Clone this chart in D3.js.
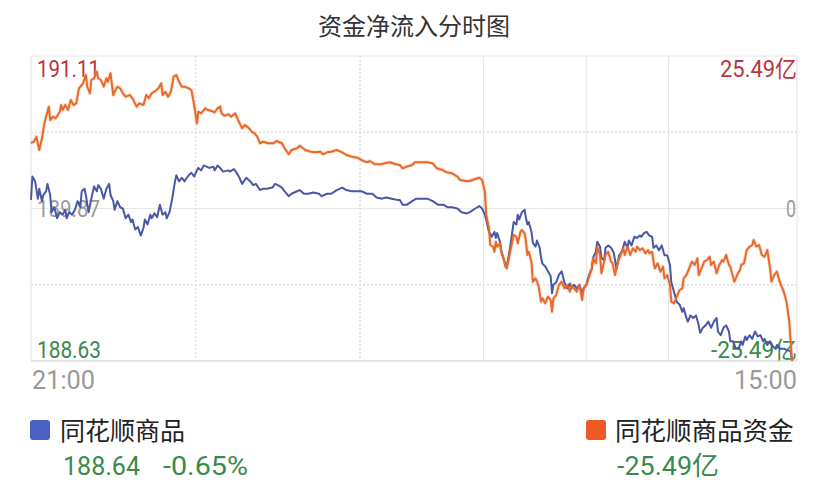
<!DOCTYPE html>
<html>
<head>
<meta charset="utf-8">
<script src="https://cdn.jsdelivr.net/npm/d3@7/dist/d3.min.js"></script>
<style>
  html, body { margin: 0; padding: 0; background: #fff; }
  svg { display: block; }
</style>
</head>
<body>
<svg id="chart" width="828" height="496"></svg>
<script>
// ---------- data ----------
const title = "资金净流入分时图";
const priceName = "同花顺商品";
const flowName = "同花顺商品资金";
const prevClose = 189.87;
const priceTicks = [188.63, 189.25, 189.87, 190.49, 191.11];
const priceTickLabels = ["188.63", "189.87", "191.11"];
const flowTickLabels = ["-25.49亿", "0", "25.49亿"];
const timeLabels = ["21:00", "15:00"];
const sessionMinutes = [0, 330, 405, 465, 555];   // session boundaries (solid)
const hourMinutes = [120, 240];                    // 23:00, 01:00 (dotted)
const lastPrice = "188.64";
const lastChange = "-0.65%";
const lastFlow = "-25.49亿";

// [minute index, price]
const priceData = [[0,189.94],[1,190.13],[3,190.09],[5,189.95],[6,190.03],[8,189.93],[9,189.98],[11,190.01],[12,190.07],[14,189.98],[15,189.84],[17,189.88],[19,189.79],[21,189.84],[23,189.82],[25,189.86],[26,189.79],[28,189.84],[30,189.82],[32,189.86],[34,189.93],[36,189.88],[37,190.01],[39,190.03],[40,189.98],[42,189.84],[44,189.95],[46,190.05],[48,190.01],[49,190.06],[51,190.03],[53,189.95],[55,190.03],[57,190.07],[58,189.98],[60,189.93],[61,189.86],[63,189.93],[65,189.88],[67,189.87],[69,189.79],[71,189.82],[73,189.76],[74,189.78],[76,189.70],[78,189.72],[80,189.65],[82,189.71],[83,189.78],[85,189.74],[87,189.82],[88,189.79],[90,189.83],[92,189.80],[94,189.90],[96,189.82],[98,189.84],[99,189.79],[101,189.84],[103,189.95],[105,190.09],[106,190.14],[108,190.09],[110,190.12],[112,190.09],[113,190.11],[115,190.14],[117,190.16],[119,190.13],[121,190.18],[122,190.20],[124,190.18],[126,190.22],[128,190.21],[130,190.20],[133,190.21],[134,190.18],[136,190.22],[138,190.20],[140,190.17],[144,190.18],[145,190.17],[148,190.19],[150,190.16],[152,190.12],[154,190.07],[157,190.12],[160,190.09],[162,190.06],[164,190.07],[167,190.02],[169,190.03],[172,190.03],[176,190.04],[178,190.07],[180,190.06],[183,190.04],[185,190.01],[188,189.97],[190,189.99],[194,190.01],[196,190.02],[199,189.99],[202,189.99],[206,190.00],[210,189.99],[212,189.97],[216,189.99],[219,189.99],[223,190.02],[227,190.04],[230,190.02],[234,190.01],[238,190.01],[241,190.01],[245,189.99],[249,189.99],[252,189.96],[256,189.95],[259,189.96],[263,189.95],[267,189.94],[269,189.94],[271,189.90],[274,189.90],[278,189.93],[281,189.95],[284,189.95],[289,189.95],[293,189.93],[297,189.90],[301,189.90],[304,189.88],[307,189.88],[311,189.87],[314,189.84],[318,189.83],[320,189.84],[324,189.87],[327,189.89],[329,189.87],[331,189.82],[332,189.78],[334,189.68],[336,189.64],[338,189.68],[339,189.63],[340,189.67],[342,189.60],[343,189.52],[345,189.45],[346,189.41],[347,189.40],[349,189.52],[351,189.68],[352,189.76],[354,189.74],[355,189.82],[356,189.78],[358,189.84],[360,189.86],[361,189.79],[362,189.74],[363,189.76],[365,189.68],[366,189.59],[368,189.56],[369,189.61],[371,189.55],[372,189.47],[373,189.42],[375,189.40],[377,189.36],[379,189.32],[380,189.18],[381,189.25],[383,189.27],[385,189.33],[387,189.36],[389,189.27],[391,189.22],[393,189.26],[394,189.22],[396,189.25],[398,189.22],[400,189.25],[402,189.17],[403,189.22],[405,189.25],[407,189.33],[409,189.38],[410,189.47],[412,189.52],[413,189.60],[415,189.56],[416,189.47],[418,189.45],[419,189.55],[421,189.57],[423,189.55],[425,189.51],[427,189.38],[429,189.49],[431,189.52],[433,189.60],[435,189.55],[436,189.61],[438,189.57],[440,189.64],[442,189.63],[444,189.65],[445,189.64],[447,189.67],[449,189.68],[451,189.65],[453,189.64],[454,189.55],[456,189.57],[458,189.53],[460,189.57],[462,189.49],[464,189.49],[466,189.41],[467,189.27],[469,189.19],[471,189.11],[473,189.09],[475,189.03],[476,189.06],[478,188.98],[479,188.95],[481,189.00],[483,188.98],[485,189.00],[487,188.92],[488,188.86],[490,188.90],[492,188.92],[494,188.95],[496,188.90],[498,188.95],[500,188.98],[501,188.87],[503,188.84],[505,188.90],[507,188.92],[509,188.87],[510,188.79],[512,188.79],[514,188.73],[516,188.73],[518,188.79],[519,188.76],[521,188.83],[522,188.80],[524,188.84],[526,188.81],[528,188.87],[530,188.83],[532,188.84],[534,188.79],[535,188.81],[537,188.76],[539,188.79],[541,188.75],[543,188.73],[544,188.76],[546,188.73],[549,188.73],[551,188.72],[554,188.71],[555,188.64]];

// [minute index, net inflow (亿)]
const flowData = [[0,10.95],[2,11.17],[4,12.00],[6,9.78],[8,11.73],[10,14.51],[13,17.02],[14,14.79],[16,15.34],[18,15.08],[21,16.18],[22,17.30],[23,16.46],[25,17.30],[27,16.46],[29,18.14],[31,17.30],[33,17.58],[35,20.09],[38,20.93],[40,22.31],[41,20.36],[43,19.26],[44,21.48],[46,21.76],[48,22.87],[49,21.76],[51,21.48],[53,20.36],[55,21.76],[56,21.19],[58,22.60],[60,18.97],[61,19.52],[63,20.36],[65,20.09],[67,19.26],[69,18.69],[72,18.97],[74,18.42],[77,17.02],[79,17.58],[82,17.30],[84,18.97],[86,18.42],[88,19.26],[90,19.52],[93,20.09],[95,20.93],[96,18.97],[98,19.52],[100,18.69],[102,19.52],[104,22.03],[106,22.31],[108,21.19],[110,20.36],[112,20.36],[115,20.09],[117,19.81],[119,17.30],[121,14.24],[122,16.18],[124,15.91],[127,16.75],[129,16.46],[132,16.30],[134,16.08],[136,16.75],[138,17.02],[139,15.91],[141,15.51],[144,15.75],[146,15.34],[149,15.91],[151,14.79],[154,13.41],[156,13.96],[159,13.41],[161,12.84],[163,12.57],[165,12.00],[167,10.90],[169,11.17],[173,10.90],[177,10.90],[179,11.28],[183,10.90],[185,10.06],[188,9.06],[190,9.78],[194,10.06],[196,10.50],[200,9.78],[204,9.49],[207,9.39],[211,9.49],[213,9.06],[216,9.39],[219,9.49],[223,9.78],[227,9.39],[230,8.94],[234,8.66],[238,8.49],[241,8.11],[245,7.72],[247,7.94],[251,7.39],[255,7.39],[258,7.56],[262,7.72],[266,7.39],[269,7.27],[271,6.72],[274,6.99],[278,7.27],[280,7.72],[284,7.72],[289,7.72],[293,7.56],[296,6.72],[300,6.44],[303,6.05],[307,5.88],[311,5.32],[313,4.76],[317,4.60],[320,4.60],[324,4.93],[327,5.15],[329,4.76],[331,2.81],[332,-1.09],[334,-3.31],[335,-6.10],[337,-6.39],[338,-7.22],[339,-5.55],[340,-6.39],[342,-5.82],[343,-7.22],[345,-8.61],[346,-9.73],[347,-10.00],[349,-7.77],[351,-5.55],[352,-4.43],[354,-4.71],[355,-5.82],[357,-3.88],[358,-3.59],[360,-4.15],[361,-5.55],[362,-7.77],[363,-7.22],[365,-8.89],[366,-12.24],[368,-11.67],[370,-12.79],[372,-15.58],[373,-15.01],[375,-15.85],[377,-14.74],[379,-15.29],[380,-17.25],[381,-15.01],[383,-14.46],[385,-12.79],[387,-12.24],[389,-13.34],[391,-12.79],[393,-13.91],[394,-12.79],[396,-13.34],[398,-13.91],[400,-12.79],[402,-15.29],[403,-13.34],[405,-12.79],[407,-11.40],[409,-10.00],[410,-8.32],[412,-9.16],[413,-6.39],[415,-7.77],[416,-10.83],[418,-8.89],[419,-7.77],[421,-7.22],[423,-8.89],[424,-9.11],[426,-11.12],[428,-8.89],[430,-7.77],[432,-6.65],[433,-7.77],[435,-6.39],[437,-7.77],[439,-6.65],[441,-7.22],[442,-6.39],[444,-6.94],[446,-6.65],[448,-7.49],[450,-6.94],[451,-7.49],[453,-7.22],[454,-8.89],[455,-10.00],[457,-9.16],[459,-10.56],[461,-9.73],[462,-11.67],[464,-11.12],[466,-12.79],[467,-15.58],[469,-15.85],[471,-14.74],[473,-13.62],[475,-13.34],[476,-11.67],[478,-11.12],[480,-10.00],[482,-8.89],[484,-9.44],[486,-8.32],[487,-11.12],[489,-10.00],[491,-8.89],[493,-8.61],[495,-8.06],[496,-9.44],[498,-8.89],[500,-10.83],[502,-9.44],[504,-8.61],[505,-8.89],[507,-7.77],[509,-9.44],[510,-9.73],[513,-12.24],[515,-11.12],[517,-10.28],[518,-9.44],[520,-9.16],[522,-6.94],[524,-6.39],[526,-6.10],[527,-5.27],[529,-6.39],[531,-6.10],[533,-7.77],[535,-8.06],[537,-6.94],[539,-10.00],[540,-12.24],[542,-11.12],[544,-10.56],[546,-12.24],[548,-13.34],[549,-13.91],[551,-15.58],[553,-18.92],[554,-22.26],[555,-25.49]];

// ---------- layout ----------
const svg = d3.select("#chart");
const frame = { left: 31, right: 797, top: 56, bottom: 361 };
const x = d3.scaleLinear().domain([0, 555]).range([31, 792]);
const yL = d3.scaleLinear().domain([188.63, 191.11]).range([frame.bottom, frame.top]);
const yR = d3.scaleLinear().domain([-25.49, 25.49]).range([frame.bottom, frame.top]);

const numFont = "Roboto, 'DejaVu Sans', sans-serif";
const cjkFont = "'Noto Sans CJK SC', 'Noto Sans', sans-serif";
const RED = "#bb353c", GREEN = "#3b8a4d", GRAY = "#9a9a9a";
const BLUE_LINE = "#4858a6", ORANGE_LINE = "#e8692c";

// title
svg.append("text").attr("x", 414).attr("y", 35).attr("text-anchor", "middle")
  .attr("font-family", cjkFont).attr("font-size", 24).attr("fill", "#333")
  .text(title);

// grid
const grid = svg.append("g");
priceTicks.forEach((t, i) => {
  const dotted = (i === 1 || i === 3);
  grid.append("line").attr("x1", frame.left).attr("x2", frame.right)
    .attr("y1", yL(t)).attr("y2", yL(t))
    .attr("stroke", dotted ? "#dedede" : "#e6e6e6")
    .attr("stroke-width", dotted ? 1.5 : 1.2)
    .attr("stroke-dasharray", dotted ? "2,2" : null);
});
sessionMinutes.slice(0, 4).forEach(m => {
  grid.append("line").attr("x1", x(m)).attr("x2", x(m))
    .attr("y1", frame.top).attr("y2", frame.bottom)
    .attr("stroke", "#e6e6e6").attr("stroke-width", 1.2);
});
grid.append("line").attr("x1", frame.right).attr("x2", frame.right)
  .attr("y1", frame.top).attr("y2", frame.bottom)
  .attr("stroke", "#e6e6e6").attr("stroke-width", 1.2);
hourMinutes.forEach(m => {
  grid.append("line").attr("x1", x(m)).attr("x2", x(m))
    .attr("y1", frame.top).attr("y2", frame.bottom)
    .attr("stroke", "#dedede").attr("stroke-width", 1.5).attr("stroke-dasharray", "2,2");
});
grid.append("line").attr("x1", frame.left).attr("x2", frame.right)
  .attr("y1", frame.bottom).attr("y2", frame.bottom)
  .attr("stroke", "#e0e0e0").attr("stroke-width", 1.5);

// axis labels helper
function label(g, txt, px, py, anchor, size, color, len, font) {
  const t = g.append("text").attr("x", px).attr("y", py).attr("text-anchor", anchor)
    .attr("font-family", font || numFont).attr("font-size", size).attr("fill", color).text(txt);
  if (len) t.attr("textLength", len).attr("lengthAdjust", "spacingAndGlyphs");
  return t;
}
const axisG = svg.append("g");
label(axisG, priceTickLabels[2], 37, yL(191.11) + 21, "start", 23, RED, 63);
label(axisG, priceTickLabels[1], 37, yL(prevClose) + 8.5, "start", 23, GRAY, 63);
label(axisG, priceTickLabels[0], 37, yL(188.63) - 3.5, "start", 23, GREEN, 64);
label(axisG, flowTickLabels[2], 797, yR(25.49) + 21, "end", 23, RED, 77, numFont + ", " + cjkFont);
label(axisG, flowTickLabels[1], 796, yR(0) + 8.5, "end", 23, GRAY, 10);
label(axisG, flowTickLabels[0], 797, yR(-25.49) - 3.5, "end", 23, GREEN, 86, numFont + ", " + cjkFont);

// time labels
label(axisG, timeLabels[0], 32, 389, "start", 25, GRAY, 63);
label(axisG, timeLabels[1], 797, 389, "end", 25, GRAY, 63);

// lines
const lineGen = (ys) => d3.line().x(d => x(d[0])).y(d => ys(d[1])).curve(d3.curveLinear);
svg.append("path").datum(flowData)
  .attr("d", lineGen(yR)).attr("fill", "none")
  .attr("stroke", "#f3b48e").attr("stroke-width", 4).attr("stroke-opacity", 0.35)
  .attr("stroke-linejoin", "round");
svg.append("path").datum(priceData)
  .attr("d", lineGen(yL)).attr("fill", "none")
  .attr("stroke", BLUE_LINE).attr("stroke-width", 2).attr("stroke-linejoin", "round");
svg.append("path").datum(flowData)
  .attr("d", lineGen(yR)).attr("fill", "none")
  .attr("stroke", ORANGE_LINE).attr("stroke-width", 2).attr("stroke-linejoin", "round");

// legend
const lg = svg.append("g");
lg.append("rect").attr("x", 30).attr("y", 420).attr("width", 20).attr("height", 20)
  .attr("rx", 3).attr("fill", "#4a60c2");
label(lg, priceName, 60, 440, "start", 25, "#222", null, cjkFont);
label(lg, lastPrice, 63, 475, "start", 26, GREEN, 77);
label(lg, lastChange, 163, 475, "start", 26, GREEN, 85);

lg.append("rect").attr("x", 586).attr("y", 420).attr("width", 20).attr("height", 20)
  .attr("rx", 3).attr("fill", "#ef5a24");
label(lg, flowName, 615, 440, "start", 25.5, "#222", null, cjkFont);
label(lg, lastFlow, 617, 475, "start", 26, GREEN, 102, numFont + ", " + cjkFont);
</script>
</body>
</html>
